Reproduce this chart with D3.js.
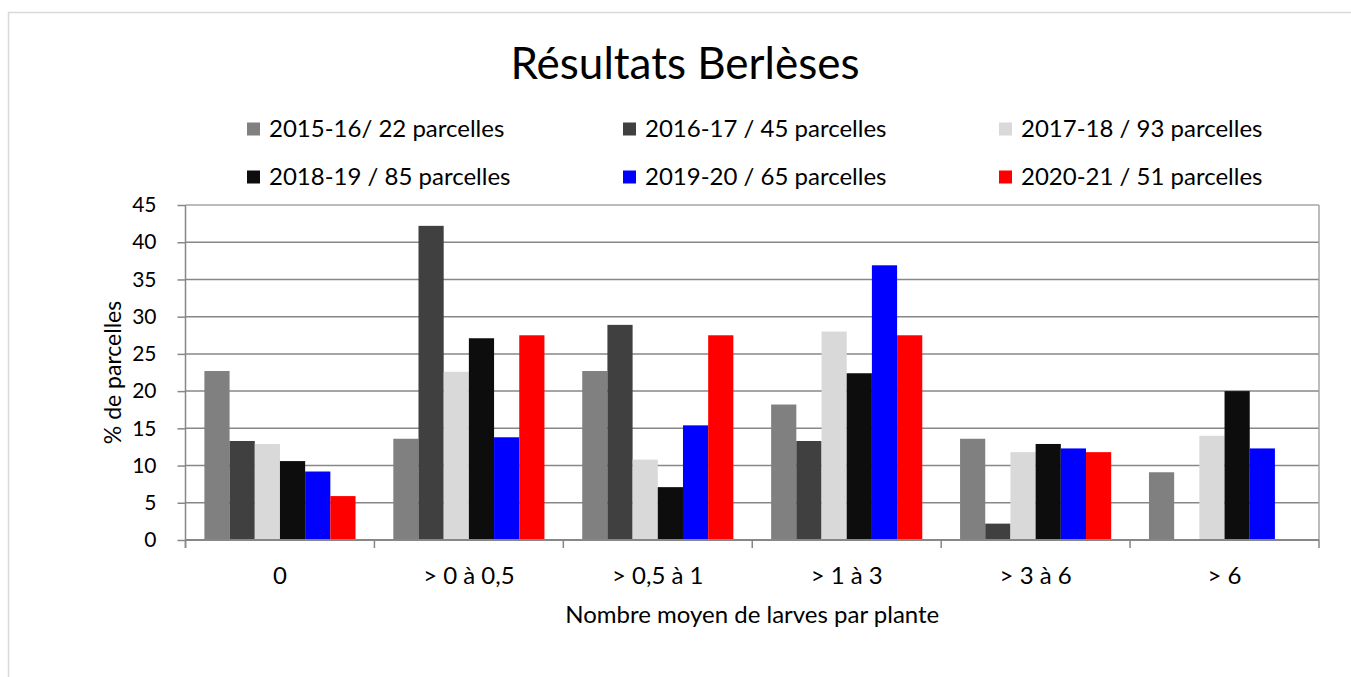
<!DOCTYPE html>
<html>
<head>
<meta charset="utf-8">
<script src="https://cdn.jsdelivr.net/npm/d3@7"></script>
<style>
  body { margin: 0; background: #fff; }
  svg { display: block; font-family: Lato, "Open Sans", sans-serif; }
</style>
</head>
<body>
<svg id="chart" width="1351" height="677"></svg>
<script>
var categories = ["0", "> 0 à 0,5", "> 0,5 à 1", "> 1 à 3", "> 3 à 6", "> 6"];
var seriesNames = [
  "2015-16/ 22 parcelles", "2016-17 / 45 parcelles", "2017-18 / 93 parcelles",
  "2018-19 / 85 parcelles", "2019-20 / 65 parcelles", "2020-21 / 51 parcelles"
];
var s2015 = [22.7, 13.6, 22.7, 18.2, 13.6, 9.1];
var s2016 = [13.3, 42.2, 28.9, 13.3, 2.2, 0];
var s2017 = [12.9, 22.6, 10.8, 28.0, 11.8, 14.0];
var s2018 = [10.6, 27.1, 7.1, 22.4, 12.9, 20.0];
var s2019 = [9.2, 13.8, 15.4, 36.9, 12.3, 12.3];
var s2020 = [5.9, 27.5, 27.5, 27.5, 11.8, 0];
var yTicks = [0, 5, 10, 15, 20, 25, 30, 35, 40, 45];

var allSeries = [s2015, s2016, s2017, s2018, s2019, s2020];
var colors = ["#808080", "#404040", "#d9d9d9", "#0d0d0d", "#0000ff", "#ff0000"];

var svg = d3.select("#chart");

// cadre du graphique
svg.append("rect")
  .attr("x", 8.5).attr("y", 12.5)
  .attr("width", 1400).attr("height", 700)
  .attr("fill", "none")
  .attr("stroke", "#d9d9d9")
  .attr("stroke-width", 1.5);

var plotLeft = 185.5, plotRight = 1319, plotTop = 205, plotBottom = 540;

var x0 = d3.scaleBand().domain(categories).range([plotLeft, plotRight]);
var x1 = d3.scaleBand().domain(d3.range(allSeries.length))
  .range([0, x0.bandwidth()])
  .paddingInner(0)
  .paddingOuter(0.75);
var y = d3.scaleLinear().domain([0, 45]).range([plotBottom, plotTop]);

// grille
svg.append("g").selectAll("line")
  .data(yTicks.filter(function(t){ return t > 0; }))
  .enter().append("line")
    .attr("x1", plotLeft).attr("x2", plotRight)
    .attr("y1", function(d){ return y(d); })
    .attr("y2", function(d){ return y(d); })
    .attr("stroke", function(d){ return d == 45 ? "#a6a6a6" : "#878787"; })
    .attr("stroke-width", 1.5);

svg.append("line")
  .attr("x1", plotRight).attr("x2", plotRight)
  .attr("y1", plotTop).attr("y2", plotBottom)
  .attr("stroke", "#a6a6a6")
  .attr("stroke-width", 1.5);

// barres
var groups = svg.append("g").selectAll("g")
  .data(categories)
  .enter().append("g")
    .attr("transform", function(d){ return "translate(" + x0(d) + ",0)"; });

groups.selectAll("rect")
  .data(function(d, ci){
    return allSeries.map(function(s, si){ return { si: si, value: s[ci] }; });
  })
  .enter().append("rect")
    .attr("x", function(d){ return x1(d.si); })
    .attr("width", x1.bandwidth())
    .attr("y", function(d){ return y(d.value); })
    .attr("height", function(d){ return y(0) - y(d.value); })
    .attr("fill", function(d){ return colors[d.si]; });

// axe Y
var yAxis = svg.append("g")
  .attr("transform", "translate(" + plotLeft + ",0)")
  .call(d3.axisLeft(y).tickValues(yTicks).tickSize(8).tickPadding(21).tickSizeOuter(0));
yAxis.select(".domain").attr("stroke", "#878787").attr("stroke-width", 1.5)
  .attr("d", "M0," + plotTop + "V" + (plotBottom + 8));
yAxis.selectAll(".tick line").attr("stroke", "#878787").attr("stroke-width", 1.5);
yAxis.selectAll(".tick text")
  .attr("fill", "#000")
  .attr("font-size", 21)
  .attr("font-family", "Lato, sans-serif");

// axe X
var xAxis = svg.append("g")
  .attr("transform", "translate(0," + plotBottom + ")")
  .call(d3.axisBottom(x0).tickSize(0));
xAxis.select(".domain").remove();
xAxis.selectAll(".tick text")
  .attr("y", 44)
  .attr("dy", 0)
  .attr("fill", "#000")
  .attr("font-size", 24)
  .attr("font-family", "Lato, sans-serif");

svg.append("line")
  .attr("x1", plotLeft).attr("x2", plotRight)
  .attr("y1", plotBottom).attr("y2", plotBottom)
  .attr("stroke", "#878787")
  .attr("stroke-width", 2);

var bounds = categories.map(function(c){ return x0(c); }).concat([plotRight]);
svg.append("g").selectAll("line")
  .data(bounds)
  .enter().append("line")
    .attr("x1", function(d){ return d; }).attr("x2", function(d){ return d; })
    .attr("y1", plotBottom).attr("y2", plotBottom + 8)
    .attr("stroke", "#878787")
    .attr("stroke-width", 1.5);

// titres
svg.append("text")
  .attr("x", 685).attr("y", 79)
  .attr("text-anchor", "middle")
  .attr("font-size", 44)
  .text("Résultats Berlèses");

svg.append("text")
  .attr("x", (plotLeft + plotRight) / 2).attr("y", 623)
  .attr("text-anchor", "middle")
  .attr("font-size", 24)
  .text("Nombre moyen de larves par plante");

svg.append("text")
  .attr("transform", "translate(121," + ((plotTop + plotBottom) / 2) + ") rotate(-90)")
  .attr("text-anchor", "middle")
  .attr("font-size", 23)
  .text("% de parcelles");

// légende
var legendX = [247, 623, 999];
var legendY = [129, 177];
var legend = svg.append("g").selectAll("g")
  .data(seriesNames)
  .enter().append("g")
    .attr("transform", function(d, i){
      return "translate(" + legendX[i % 3] + "," + legendY[Math.floor(i / 3)] + ")";
    });
legend.append("rect")
  .attr("x", 0).attr("y", -6.5)
  .attr("width", 13).attr("height", 13)
  .attr("fill", function(d, i){ return colors[i]; });
legend.append("text")
  .attr("x", 22).attr("y", 8)
  .attr("font-size", 24)
  .text(function(d){ return d; });
</script>
</body>
</html>
